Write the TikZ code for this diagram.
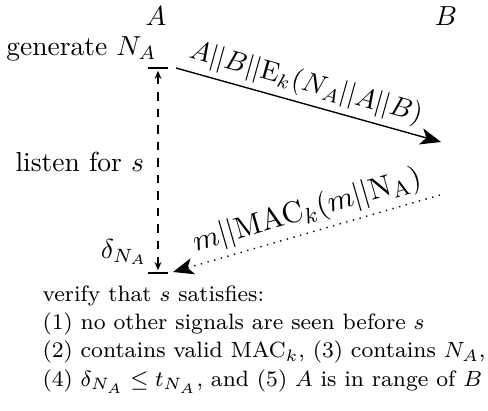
\documentclass[tikz,border=0pt]{standalone}
\usetikzlibrary{arrows.meta}
\begin{document}
\begin{tikzpicture}[x=0.3636pt,y=-0.3636pt,
  lbl/.style={inner sep=0pt},
  tick/.style={line width=0.5pt},
  msg/.style={-{Stealth[length=7.5pt,width=6pt,inset=2pt]},line width=0.5pt},
  wait/.style={{Stealth[length=3pt,width=2.5pt]}-{Stealth[length=3pt,width=2.5pt]},dashed,line width=0.5pt},
  reply/.style={-{Stealth[length=7.5pt,width=6pt,inset=2pt]},dotted,line width=0.5pt}]
\useasboundingbox (0,0) rectangle (488,410);
\node[lbl,anchor=base] (A) at (156,25) {$A$};
\node[lbl,anchor=base] (B) at (446,25) {$B$};
\node[lbl,anchor=base east] (gen) at (157,55) {generate $N_A$};
\coordinate (t1l) at (148,68);
\coordinate (t1r) at (168,68);
\coordinate (t1) at (158,68);
\coordinate (t2l) at (148,273);
\coordinate (t2r) at (168,273);
\coordinate (t2) at (158,273);
\draw[tick] (t1l) -- (t1r);
\draw[tick] (t2l) -- (t2r);
\draw[wait] ([yshift=-1pt]t1) -- ([yshift=1pt]t2);
\coordinate (m1s) at (176,68);
\coordinate (m1e) at (441,142);
\draw[msg] (m1s) -- node[pos=0.47,above,sloped,inner sep=2pt] (m1) {$A||B||\mathrm{E}_k(N_A||A||B)$} (m1e);
\coordinate (m2s) at (440,195);
\coordinate (m2e) at (173,272);
\draw[reply] (m2s) -- node[pos=0.475,above,sloped,inner sep=2pt,font={\fontsize{11}{13}\selectfont}] (m2) {$m||\mathrm{MAC}_k(m||\mathrm{N_A})$} (m2e);
\node[lbl,anchor=base west] (listen) at (15,171) {listen for $s$};
\node[lbl,anchor=base east] (delta) at (148,258) {$\delta_{N_A}$};
\node[lbl,anchor=base west,align=left,font={\fontsize{8.1}{10.3}\selectfont}] (ver) at (42,386) {verify that $s$ satisfies:\\
(1) no other signals are seen before $s$\\
(2) contains valid $\mathrm{MAC}_k$, (3) contains $N_A$,\\
(4) $\delta_{N_A}\leq t_{N_A}$, and (5) $A$ is in range of $B$};
\end{tikzpicture}
\end{document}
